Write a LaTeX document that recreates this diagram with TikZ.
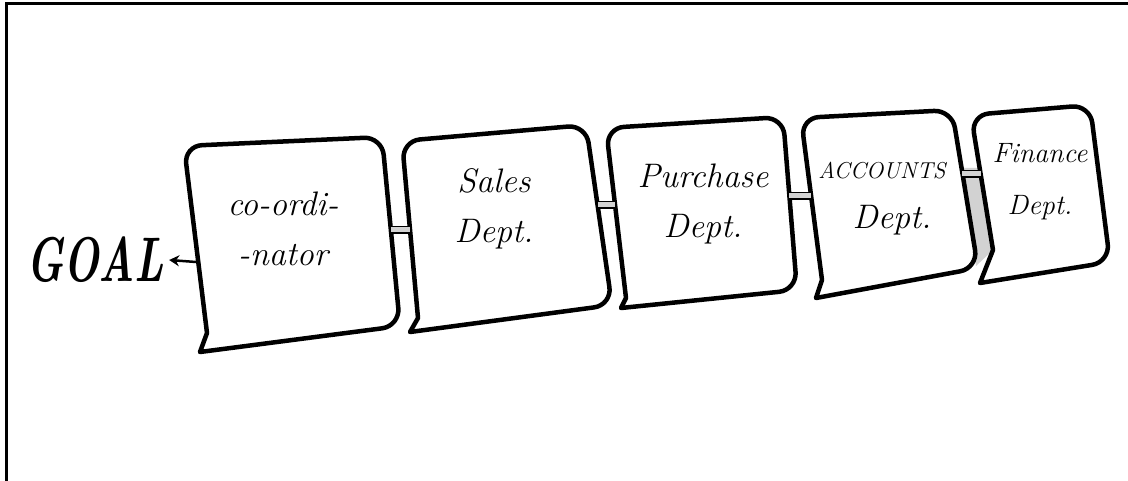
\documentclass[tikz,border=0pt]{standalone}
\usepackage{graphicx}
\usetikzlibrary{arrows.meta,positioning,calc}
\definecolor{pencilgray}{RGB}{210,210,210}
\tikzset{
  deptbox/.style={draw=black,line width=4.5pt,fill=white,line join=round},
  pipe/.style={draw=black,line width=1.8pt,double=pencilgray,double distance=5pt},
  handtext/.style={font=\fontsize{34}{50}\selectfont\itshape,align=center,inner sep=0pt},
}

\begin{document}
\begin{tikzpicture}[x=1pt,y=-1pt]
    \useasboundingbox (0,0) rectangle (1128,481);
    % frame (top and left only)
    \draw[line width=3pt] (6,481) -- (6,4) -- (1128,4);
    % shading between the last two boxes
    \fill[pencilgray] (962,168) -- (981,168) -- (993,250) -- (976,266) -- cycle;
    % the five department boxes
    \draw[deptbox] (200,352) -- (207,333) [rounded corners=18pt] -- (184,146) -- (382,137) -- (400,326) [sharp corners] -- cycle;
    \draw[deptbox] (410,332) -- (418,318) [rounded corners=18pt] -- (402,141) -- (586,125) -- (612,305) [sharp corners] -- cycle;
    \draw[deptbox] (621,308) -- (626,298) [rounded corners=18pt] -- (606,128) -- (783,117) -- (797,290) [sharp corners] -- cycle;
    \draw[deptbox] (816,298) -- (822,280) [rounded corners=18pt] -- (801,118) -- (952,110) -- (978,268) [sharp corners] -- cycle;
    \draw[deptbox] (980,283) -- (993,250) [rounded corners=18pt] -- (971,115) -- (1090,105) -- (1110,262) [sharp corners] -- cycle;
    % labels
    \node[handtext] (coord) at (283,229) {co-ordi-\\-nator};
    \node[handtext] (sales) at (494,209) {Sales\\Dept.};
    \node[handtext] (purchase) at (703,204) {Purchase\\Dept.};
    \node[handtext] (accounts) at (882,199) {{\fontsize{23}{50}\selectfont ACCOUNTS}\\\hspace*{20pt}Dept.};
    \node[handtext,font=\fontsize{28}{52}\selectfont\itshape] (finance) at (1040,182) {Finance\\Dept.};
    \node[inner sep=0pt,font=\fontsize{42}{42}\selectfont\bfseries\itshape] (goal) at (95,260) {\scalebox{1}[1.5]{GOAL}};
    % joints between boxes
    \coordinate (coordR) at (391,230);
    \coordinate (salesL) at (410,230);
    \coordinate (salesR) at (598,205);
    \coordinate (purchaseL) at (615,205);
    \coordinate (purchaseR) at (789,196);
    \coordinate (accountsL) at (811,196);
    \coordinate (accountsR) at (962,174);
    \coordinate (financeL) at (981,174);
    \draw[pipe] (coordR) -- (salesL);
    \draw[pipe] (salesR) -- (purchaseL);
    \draw[pipe] (purchaseR) -- (accountsL);
    \draw[pipe] (accountsR) -- (financeL);
    % arrow to the goal
    \coordinate (coordL) at (196,262);
    \draw[line width=2.5pt,-{Stealth[length=10pt,width=11pt]}] (coordL) -- ([xshift=5pt]goal.east);
\end{tikzpicture}
\end{document}
